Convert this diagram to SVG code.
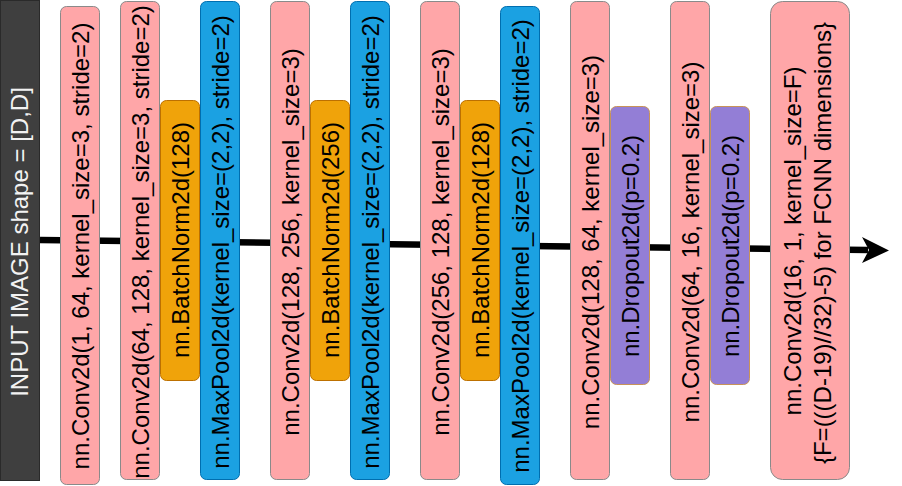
<svg xmlns="http://www.w3.org/2000/svg" width="902" height="486" viewBox="0 0 902 486">
<style>
text{font-family:"Liberation Sans",Arial,sans-serif;font-size:24px;fill:#000;text-anchor:middle}
.pink{fill:#ffa6a8;stroke:#8a8a8a;stroke-width:1}
.orange{fill:#f0a30a;stroke:#bd7000;stroke-width:1}
.blue{fill:#1ba1e2;stroke:#006eaf;stroke-width:1}
.purple{fill:#937ed6;stroke:#c8935a;stroke-width:1}
.input{fill:#3f3f3f;stroke:#2a2a2a;stroke-width:1}
.wt{fill:#f2f2f2}
</style>
<rect width="902" height="486" fill="#fff"/>
<g id="connectors">
<line x1="40" y1="240" x2="868" y2="250" stroke="#000" stroke-width="6.5"/>
<path d="M862,237 L889,250.5 L862,263 L869,250 Z" fill="#000"/>
</g>
<g id="input">
<rect class="input" x="0.5" y="0.5" width="39" height="480"/>
<text class="wt" transform="translate(28,242) rotate(-90)">INPUT IMAGE shape = [D,D]</text>
</g>
<g id="conv1">
<rect class="pink" x="60.5" y="6.5" width="39" height="478" rx="6"/>
<text transform="translate(88.5,246) rotate(-90)">nn.Conv2d(1, 64, kernel_size=3, stride=2)</text>
</g>
<g id="conv2">
<rect class="pink" x="120.5" y="1.5" width="39" height="478" rx="6"/>
<text transform="translate(148.5,242) rotate(-90)">nn.Conv2d(64, 128, kernel_size=3, stride=2)</text>
</g>
<g id="bn1">
<rect class="orange" x="160.5" y="100.5" width="39" height="280" rx="6"/>
<text transform="translate(188.5,240) rotate(-90)">nn.BatchNorm2d(128)</text>
</g>
<g id="pool1">
<rect class="blue" x="200.5" y="1.5" width="39" height="478" rx="6"/>
<text transform="translate(228.5,242) rotate(-90)">nn.MaxPool2d(kernel_size=(2,2), stride=2)</text>
</g>
<g id="conv3">
<rect class="pink" x="270.5" y="1.5" width="39" height="478" rx="6"/>
<text transform="translate(298.5,242) rotate(-90)">nn.Conv2d(128, 256, kernel_size=3)</text>
</g>
<g id="bn2">
<rect class="orange" x="310.5" y="100.5" width="39" height="280" rx="6"/>
<text transform="translate(338.5,240) rotate(-90)">nn.BatchNorm2d(256)</text>
</g>
<g id="pool2">
<rect class="blue" x="350.5" y="1.5" width="39" height="478" rx="6"/>
<text transform="translate(378.5,242) rotate(-90)">nn.MaxPool2d(kernel_size=(2,2), stride=2)</text>
</g>
<g id="conv4">
<rect class="pink" x="420.5" y="1.5" width="39" height="478" rx="6"/>
<text transform="translate(448.5,242) rotate(-90)">nn.Conv2d(256, 128, kernel_size=3)</text>
</g>
<g id="bn3">
<rect class="orange" x="460.5" y="100.5" width="39" height="280" rx="6"/>
<text transform="translate(488.5,240) rotate(-90)">nn.BatchNorm2d(128)</text>
</g>
<g id="pool3">
<rect class="blue" x="500.5" y="6.5" width="39" height="478" rx="6"/>
<text transform="translate(528.5,246) rotate(-90)">nn.MaxPool2d(kernel_size=(2,2), stride=2)</text>
</g>
<g id="conv5">
<rect class="pink" x="570.5" y="1.5" width="39" height="478" rx="6"/>
<text transform="translate(598.5,242) rotate(-90)">nn.Conv2d(128, 64, kernel_size=3)</text>
</g>
<g id="drop1">
<rect class="purple" x="610.5" y="106.5" width="39" height="278" rx="6"/>
<text transform="translate(638.5,246) rotate(-90)">nn.Dropout2d(p=0.2)</text>
</g>
<g id="conv6">
<rect class="pink" x="670.5" y="1.5" width="39" height="478" rx="6"/>
<text transform="translate(698.5,242) rotate(-90)">nn.Conv2d(64, 16, kernel_size=3)</text>
</g>
<g id="drop2">
<rect class="purple" x="710.5" y="106.5" width="39" height="278" rx="6"/>
<text transform="translate(738.5,246) rotate(-90)">nn.Dropout2d(p=0.2)</text>
</g>
<g id="conv7">
<rect class="pink" x="770.5" y="1.5" width="79" height="478" rx="12"/>
<text transform="translate(801,241) rotate(-90)">nn.Conv2d(16, 1, kernel_size=F)</text>
<text transform="translate(831,243) rotate(-90)">{F=(((D-19)//32)-5) for FCNN dimensions}</text>
</g>
</svg>
